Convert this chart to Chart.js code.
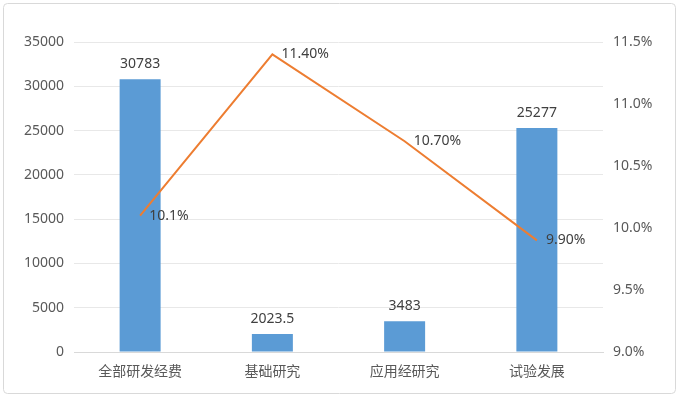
<!DOCTYPE html>
<html lang="zh">
<head>
    <meta charset="UTF-8">
    <title>研发经费</title>
    <script src="https://cdn.jsdelivr.net/npm/chart.js"></script>
    <style>
        html, body { margin: 0; padding: 0; background: #fff; }
        #wrap { width: 679px; height: 397px; position: relative; }
    </style>
</head>
<body>
<div id="wrap"><canvas id="chart"></canvas></div>
<script>
    // data
    const categories = ["全部研发经费", "基础研究", "应用经研究", "试验发展"];
    const spending = [30783, 2023.5, 3483, 25277];
    const spendingLabels = ["30783", "2023.5", "3483", "25277"];
    const growth = [10.1, 11.4, 10.7, 9.9];
    const growthLabels = ["10.1%", "11.40%", "10.70%", "9.90%"];

    const FONT = '"Noto Sans", "Noto Sans CJK SC", sans-serif';
    const TEXT = "#595959";

    // frame around the whole chart
    const frame = {
        id: "frame",
        beforeDraw(chart) {
            const ctx = chart.ctx;
            ctx.save();
            ctx.strokeStyle = "#d9d9d9";
            ctx.lineWidth = 1;
            ctx.beginPath();
            ctx.roundRect(3.5, 3.5, 672, 390, 4);
            ctx.stroke();
            ctx.restore();
        }
    };

    // value labels for bars and line points
    const valueLabels = {
        id: "valueLabels",
        afterDatasetsDraw(chart) {
            const ctx = chart.ctx;
            ctx.save();
            ctx.font = "14px " + FONT;
            ctx.fillStyle = "#404040";
            chart.getDatasetMeta(1).data.forEach((bar, i) => {
                ctx.textAlign = "center";
                ctx.textBaseline = "middle";
                ctx.fillText(spendingLabels[i], bar.x, bar.y - 15);
            });
            chart.getDatasetMeta(0).data.forEach((pt, i) => {
                ctx.textAlign = "left";
                ctx.textBaseline = "middle";
                ctx.fillText(growthLabels[i], pt.x + 9, pt.y);
            });
            ctx.restore();
        }
    };

    new Chart(document.getElementById("chart"), {
        data: {
            labels: categories,
            datasets: [
                {
                    type: "line",
                    label: "增长率",
                    data: growth,
                    yAxisID: "y1",
                    borderColor: "#ED7D31",
                    borderWidth: 2,
                    pointRadius: 0,
                    tension: 0,
                    order: 0
                },
                {
                    type: "bar",
                    label: "经费",
                    data: spending,
                    yAxisID: "y",
                    backgroundColor: "#5B9BD5",
                    categoryPercentage: 1,
                    barPercentage: 0.31,
                    order: 1
                }
            ]
        },
        options: {
            responsive: true,
            maintainAspectRatio: false,
            animation: false,
            layout: { padding: { top: 42, left: 0, right: 0, bottom: 0 } },
            plugins: {
                legend: { display: false },
                tooltip: { enabled: false }
            },
            scales: {
                x: {
                    grid: { display: false },
                    border: { color: "#d9d9d9" },
                    ticks: { color: TEXT, font: { family: FONT, size: 14 }, padding: 4 },
                    afterFit(s) { s.height = 45; }
                },
                y: {
                    position: "left",
                    min: 0,
                    max: 35000,
                    ticks: {
                        stepSize: 5000,
                        color: TEXT,
                        font: { family: FONT, size: 14 },
                        padding: 10,
                        callback: v => String(v)
                    },
                    grid: { color: "#e8e8e8", drawTicks: false },
                    border: { display: false },
                    afterFit(s) { s.width = 74; }
                },
                y1: {
                    position: "right",
                    min: 9.0,
                    max: 11.5,
                    ticks: {
                        stepSize: 0.5,
                        color: TEXT,
                        font: { family: FONT, size: 14 },
                        padding: 10,
                        callback: v => v.toFixed(1) + "%"
                    },
                    grid: { display: false, drawTicks: false },
                    border: { display: false },
                    afterFit(s) { s.width = 76; }
                }
            }
        },
        plugins: [frame, valueLabels]
    });
</script>
</body>
</html>
